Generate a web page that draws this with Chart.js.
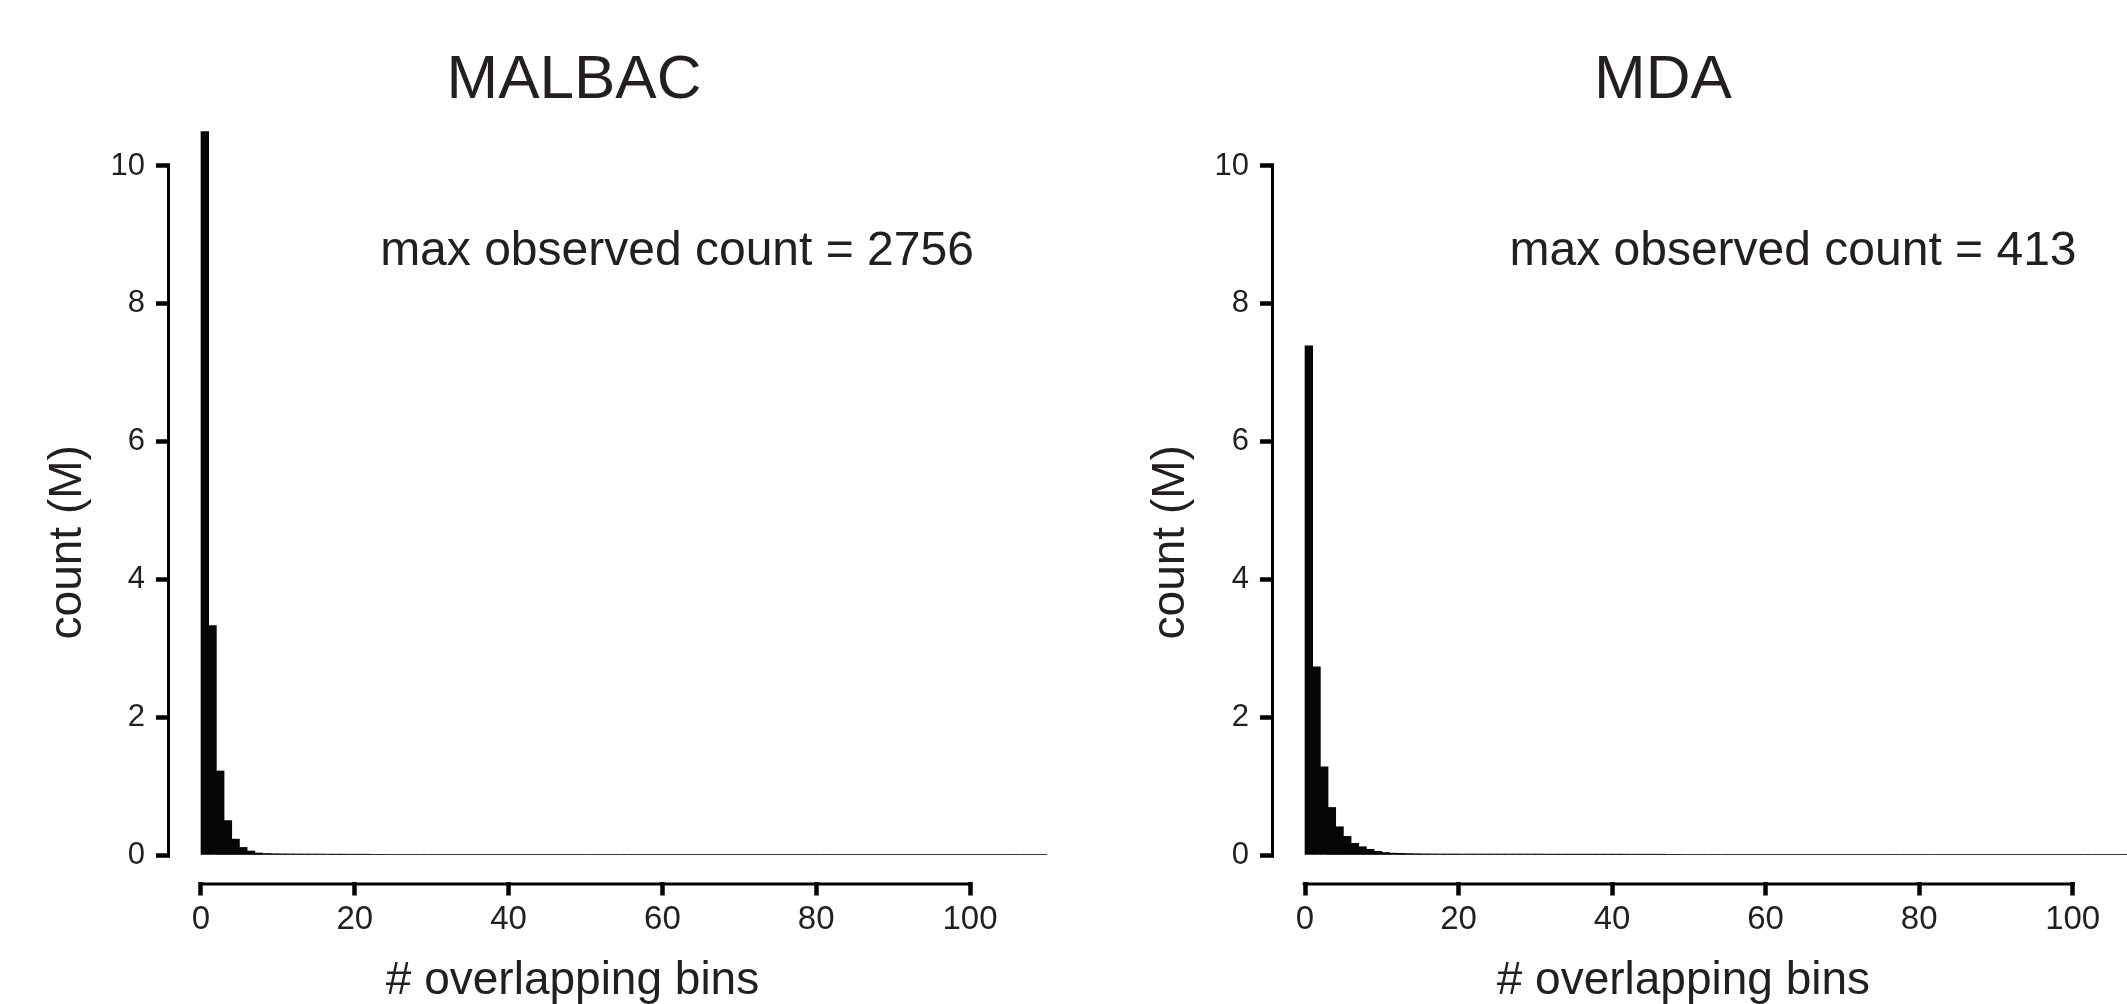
<!DOCTYPE html>
<html>
<head>
<meta charset="utf-8">
<script src="https://cdn.jsdelivr.net/npm/chart.js@4.4.0/dist/chart.umd.min.js"></script>
<style>
  html, body { margin: 0; padding: 0; background: #ffffff; overflow: hidden; width: 2127px; height: 1004px; }
  .panel { position: absolute; top: 0; height: 1004px; }
  #p1 { left: 0px; width: 1148px; }
  #p2 { left: 1125px; width: 1076px; }
</style>
</head>
<body>
<div class="panel" id="p1"><canvas id="c1"></canvas></div>
<div class="panel" id="p2"><canvas id="c2"></canvas></div>
<script>
// ---------------- data (counts in millions, bins of width 1 starting at 0) ----------------
const panelTitles = ["MALBAC", "MDA"];
const maxObservedCounts = [2756, 413];
const xTickValues = [0, 20, 40, 60, 80, 100];
const yTickValues = [0, 2, 4, 6, 8, 10];
const binWidth = 1;

const malbacCounts = [
  10.50, 3.33, 1.22, 0.50, 0.23, 0.11, 0.058, 0.029, 0.022, 0.019,
  0.017, 0.016, 0.015, 0.015, 0.014, 0.014, 0.013, 0.013, 0.013, 0.012,
  0.012, 0.012, 0.010, 0.010, 0.009, 0.009, 0.009, 0.009, 0.009, 0.009,
  0.009, 0.009, 0.009, 0.009, 0.009, 0.009, 0.009, 0.009, 0.009, 0.009,
  0.009, 0.009, 0.009, 0.009, 0.009, 0.009, 0.009, 0.009, 0.009, 0.009,
  0.009, 0.009, 0.009, 0.009, 0.009, 0.009, 0.009, 0.009, 0.009, 0.009,
  0.009, 0.009, 0.009, 0.009, 0.009, 0.009, 0.009, 0.009, 0.009, 0.009,
  0.009, 0.009, 0.009, 0.009, 0.009, 0.009, 0.009, 0.009, 0.009, 0.009,
  0.009, 0.009, 0.009, 0.009, 0.009, 0.009, 0.009, 0.009, 0.009, 0.009,
  0.009, 0.009, 0.009, 0.009, 0.009, 0.009, 0.009, 0.009, 0.009, 0.009,
  0.009, 0.009, 0.009, 0.009, 0.009, 0.009, 0.009, 0.009, 0.009, 0.009
];

const mdaCounts = [
  7.39, 2.73, 1.28, 0.69, 0.41, 0.27, 0.17, 0.12, 0.083, 0.054,
  0.036, 0.027, 0.024, 0.021, 0.019, 0.017, 0.016, 0.015, 0.015, 0.015,
  0.014, 0.014, 0.014, 0.014, 0.014, 0.014, 0.014, 0.014, 0.014, 0.014,
  0.014, 0.013, 0.013, 0.013, 0.013, 0.013, 0.013, 0.013, 0.013, 0.013,
  0.013, 0.013, 0.012, 0.012, 0.012, 0.012, 0.012, 0.010, 0.010, 0.009,
  0.009, 0.009, 0.009, 0.009, 0.009, 0.009, 0.009, 0.009, 0.009, 0.009,
  0.009, 0.009, 0.009, 0.009, 0.009, 0.009, 0.009, 0.009, 0.009, 0.009,
  0.009, 0.009, 0.009, 0.009, 0.009, 0.009, 0.009, 0.009, 0.009, 0.009,
  0.009, 0.009, 0.009, 0.009, 0.009, 0.009, 0.009, 0.009, 0.009, 0.009,
  0.009, 0.009, 0.009, 0.009, 0.009, 0.009, 0.009, 0.009, 0.009, 0.009,
  0.009, 0.009, 0.009, 0.009, 0.009, 0.009, 0.009, 0.009, 0.009, 0.009
];

// ---------------- styling / layout ----------------
const FONT = '"Liberation Sans", Arial, Helvetica, sans-serif';
const TEXT = '#231f20';
Chart.defaults.font.family = FONT;
Chart.defaults.color = TEXT;

const Y_MIN = -1.518, Y_MAX = 10.595;   // view window for the y scale
const X_AXIS_AT = -0.399;              // detached x axis sits slightly below 0
const ANNOT_X = 100.5, ANNOT_Y = 8.75;

const geoms = [
  { xMin: -4.03, xMax: 100.65, yWidth: 170, rightWidth: 173, yTitlePad: 40.4 },
  { xMin: -4.04, xMax: 102.62, yWidth: 149, rightWidth: 108.2, yTitlePad: 18.4 }
];

const detachedAxes = {
  id: 'detachedAxes',
  afterDraw(chart) {
    const { ctx, scales: { x, y }, chartArea } = chart;
    ctx.save();
    ctx.strokeStyle = '#000';
    ctx.lineWidth = 3;
    ctx.lineCap = 'butt';
    const yPix = y.getPixelForValue(X_AXIS_AT) + 1.5;
    ctx.beginPath();
    ctx.moveTo(x.getPixelForValue(xTickValues[0]) - 2.25, yPix);
    ctx.lineTo(x.getPixelForValue(xTickValues[xTickValues.length - 1]) + 2.25, yPix);
    ctx.stroke();
    const xPix = chartArea.left - 1.5;
    ctx.beginPath();
    ctx.moveTo(xPix, y.getPixelForValue(yTickValues[0]) + 2.25);
    ctx.lineTo(xPix, y.getPixelForValue(yTickValues[yTickValues.length - 1]) - 2.25);
    ctx.stroke();
    // annotation
    const opts = chart.options.plugins.detachedAxes;
    ctx.fillStyle = TEXT;
    ctx.font = '48px ' + FONT;
    ctx.textAlign = 'right';
    ctx.textBaseline = 'middle';
    ctx.fillText('max observed count = ' + opts.maxCount, x.getPixelForValue(ANNOT_X), y.getPixelForValue(ANNOT_Y));
    ctx.restore();
  }
};

function makePanel(canvasId, title, counts, maxCount, g) {
  const points = counts.map((c, i) => ({ x: i * binWidth + binWidth / 2, y: c }));
  return new Chart(document.getElementById(canvasId), {
    type: 'bar',
    data: {
      datasets: [{
        data: points,
        backgroundColor: '#050505',
        borderWidth: 0,
        barPercentage: 1,
        categoryPercentage: 1,
        grouped: false,
        clip: false
      }]
    },
    options: {
      responsive: true,
      maintainAspectRatio: false,
      animation: false,
      layout: { padding: 0 },
      plugins: {
        legend: { display: false },
        tooltip: { enabled: false },
        title: {
          display: true, text: title, color: TEXT,
          font: { size: 62, weight: 'normal', family: FONT, lineHeight: 1.2 },
          padding: { top: 43.5, bottom: 7.1 }
        },
        detachedAxes: { maxCount: maxCount }
      },
      scales: {
        x: {
          type: 'linear', min: g.xMin, max: g.xMax, offset: false,
          position: { y: X_AXIS_AT },
          afterBuildTicks: s => { s.ticks = xTickValues.map(v => ({ value: v })); },
          grid: { display: true, offset: false, drawOnChartArea: false, drawTicks: true, tickLength: 13.5, tickWidth: 4.5, tickColor: '#000', color: '#000' },
          border: { display: false },
          ticks: { font: { size: 33, family: FONT }, color: TEXT, padding: 4, maxRotation: 0, autoSkip: false, callback: v => String(v) },
          title: { display: false }
        },
        xt: {
          type: 'linear', min: g.xMin, max: g.xMax, position: 'bottom', offset: false,
          afterFit: s => { s.height = 44.4; },
          grid: { display: false }, border: { display: false }, ticks: { display: false },
          title: { display: true, text: '# overlapping bins', color: TEXT, font: { size: 46, family: FONT, lineHeight: 1.2 }, padding: { top: 0, bottom: -5 } }
        },
        y: {
          type: 'linear', min: Y_MIN, max: Y_MAX, position: 'left',
          afterBuildTicks: s => { s.ticks = yTickValues.map(v => ({ value: v })); },
          afterFit: s => { s.width = g.yWidth; },
          grid: { display: true, drawOnChartArea: false, drawTicks: true, tickLength: 14, tickWidth: 4.5, tickColor: '#000', color: '#000' },
          border: { display: false },
          ticks: { font: { size: 31, family: FONT }, color: TEXT, padding: 11, callback: v => String(v) },
          title: { display: true, text: 'count (M)', color: TEXT, font: { size: 46, family: FONT, lineHeight: 1.2 }, padding: { top: g.yTitlePad, bottom: 0 } }
        },
        yr: {
          type: 'linear', position: 'right', min: 0, max: 1,
          afterFit: s => { s.width = g.rightWidth; },
          grid: { display: false }, border: { display: false }, ticks: { display: false }
        }
      }
    },
    plugins: [detachedAxes]
  });
}

makePanel('c1', panelTitles[0], malbacCounts, maxObservedCounts[0], geoms[0]);
makePanel('c2', panelTitles[1], mdaCounts, maxObservedCounts[1], geoms[1]);
</script>
</body>
</html>
